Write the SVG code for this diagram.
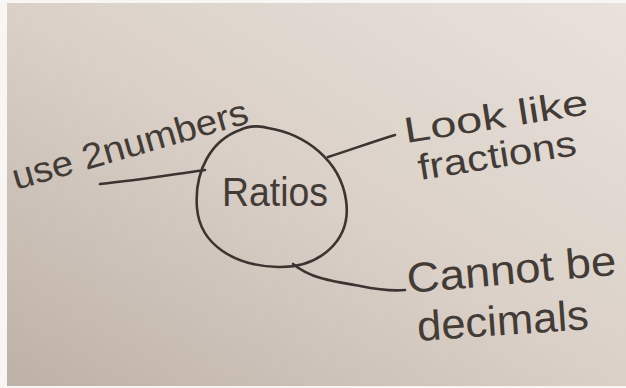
<svg xmlns="http://www.w3.org/2000/svg" width="626" height="388" viewBox="0 0 626 388">
  <style>
    .ink { fill: none; stroke: #3b3430; stroke-width: 2.6; stroke-linecap: round; stroke-linejoin: round; }
    .hand { font-family: "Liberation Sans", "DejaVu Sans", sans-serif; fill: #433b36; font-weight: normal; }
  </style>
  <defs>
    <linearGradient id="paper" x1="1" y1="0" x2="0" y2="1">
      <stop offset="0" stop-color="#e8e2db"/>
      <stop offset="0.5" stop-color="#dad0c7"/>
      <stop offset="1" stop-color="#bdb1a7"/>
    </linearGradient>
  </defs>
  <rect x="0" y="0" width="626" height="388" fill="#f7f6f4"/>
  <rect x="7" y="3" width="619" height="383" fill="url(#paper)"/>

  <g id="connectors">
    <path class="ink" d="M100,184 C140,180 175,174 205,170"/>
    <path class="ink" d="M328,157 C350,150 372,142 395,135"/>
    <path class="ink" d="M293,264 C310,278 330,281 360,286 C380,290 395,291 405,290"/>
  </g>

  <g id="node-ratios">
    <path class="ink" d="M240,130 C250,125 262,126 268,128 C305,134 340,160 346,200 C352,240 320,268 278,267 C235,266 200,245 197,208 C194,170 212,140 240,130 Z"/>
    <text class="hand" x="222" y="206" font-size="40" textLength="106" lengthAdjust="spacingAndGlyphs">Ratios</text>
  </g>

  <g id="node-use-2-numbers">
    <text class="hand" x="16" y="190" font-size="36" textLength="244" lengthAdjust="spacingAndGlyphs" transform="rotate(-16 16 190)">use 2numbers</text>
  </g>

  <g id="node-look-like-fractions">
    <text class="hand" x="406" y="143" font-size="36" textLength="186" lengthAdjust="spacingAndGlyphs" transform="rotate(-9 406 143)">Look like</text>
    <text class="hand" x="420" y="180" font-size="36" textLength="160" lengthAdjust="spacingAndGlyphs" transform="rotate(-9 420 180)">fractions</text>
  </g>

  <g id="node-cannot-be-decimals">
    <text class="hand" x="408" y="293" font-size="42" textLength="210" lengthAdjust="spacingAndGlyphs" transform="rotate(-5 408 293)">Cannot be</text>
    <text class="hand" x="418" y="341" font-size="42" textLength="172" lengthAdjust="spacingAndGlyphs" transform="rotate(-4 418 341)">decimals</text>
  </g>
</svg>
